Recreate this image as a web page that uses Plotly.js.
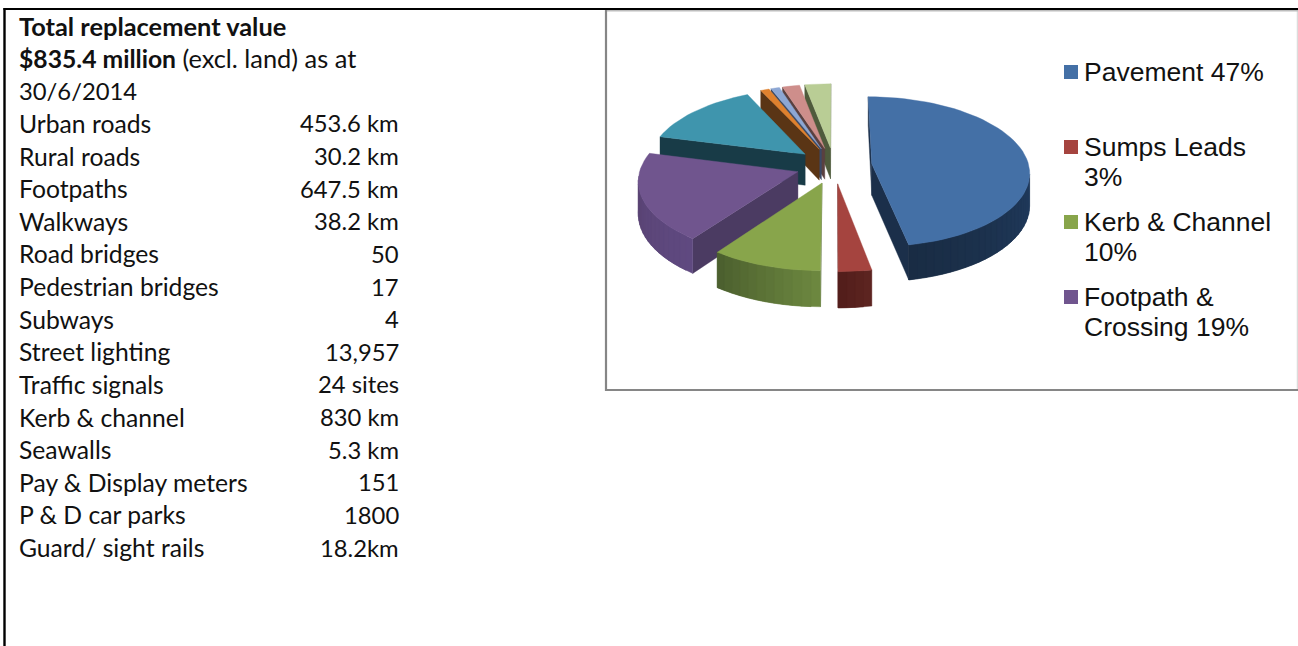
<!DOCTYPE html>
<html>
<head>
<meta charset="utf-8">
<script src="https://cdn.plot.ly/plotly-3.0.1.min.js"></script>
<style>html,body{margin:0;padding:0;background:#fff;overflow:hidden}#chart{width:1298px;height:646px}</style>
</head>
<body>
<div id="chart"></div>
<script>
// Asset summary table
const summaryLines = [
  "<span style=\"font-size:25.4px\"><b>Total replacement value</b></span>",
  "<span style=\"font-size:24.7px\"><b>$835.4 million</b></span> <span style=\"font-size:25.4px\">(excl. land) as at</span>",
  "30/6/2014"
];
const assetNames = ["Urban roads", "Rural roads", "Footpaths", "Walkways", "Road bridges", "Pedestrian bridges", "Subways",
  "Street lighting", "Traffic signals", "Kerb & channel", "Seawalls", "Pay & Display meters", "P & D car parks", "Guard/ sight rails"];
const assetValues = ["453.6 km", "30.2 km", "647.5 km", "38.2 km", "50", "17", "4", "13,957", "24 sites", "830 km", "5.3 km", "151", "1800", "18.2km"];

// Share of replacement value per asset class, clockwise from twelve o'clock
const sliceShares = [47, 3, 10, 19, 14, 1, 1, 2, 3];
const topColors = ["#4470A6", "#A5443F", "#88A54B", "#70558E", "#3F95AD", "#DF812E", "#8DA7D4", "#CE8E8B", "#B9CD95"];
const rimColorsFrom = ["#203A5C", "#5C2420", "#6C873F", "#5F4980", "#1A3D49", "#5A3515", "#3B4A66", "#5A4040", "#4F5B3C"];
const rimColorsTo = ["#192C44", "#531E1B", "#4C602F", "#5A4474", "#183B47", "#5A3515", "#3B4A66", "#5A4040", "#4F5B3C"];
const faceColors = ["#1B2F4A", "#5A211E", "#4D6130", "#4B3B62", "#183B47", "#5A3515", "#3B4A66", "#5A4040", "#4F5B3C"];
const paintOrder = [8, 7, 6, 5, 4, 3, 2, 1, 0];

// Legend
const legendEntries = [["Pavement 47%"], ["Sumps Leads", "3%"], ["Kerb & Channel", "10%"], ["Footpath &", "Crossing 19%"]];

// Oblique view of the exploded pie
const view = {cx: 834, cy: 165.5, rx: 157, ry: 74.4, perspective: 0.105, depth: 31.5, explode: 0.242};

function project(u, v, drop) {
  const s = 1 / (1 + view.perspective * v);
  return [view.cx + view.rx * u * s, view.cy - view.ry * v * s + drop * view.depth * s];
}
function hex(c) { return [1, 3, 5].map(i => parseInt(c.substr(i, 2), 16)); }
function mix(a, b, t) {
  const A = hex(a), B = hex(b);
  return "rgb(" + A.map((x, i) => Math.round(x + (B[i] - x) * t)).join(",") + ")";
}
function polygon(points, color) {
  const closed = points.concat([points[0]]);
  return {
    type: "scatter", mode: "lines", x: closed.map(p => p[0]), y: closed.map(p => p[1]),
    fill: "toself", fillcolor: color, line: {color: color, width: 0.4},
    hoverinfo: "skip", showlegend: false
  };
}
function sliceTraces(index, startFrac, endFrac) {
  const TAU = 2 * Math.PI, a0 = startFrac * TAU, a1 = endFrac * TAU, mid = (a0 + a1) / 2;
  const tu = view.explode * Math.sin(mid), tv = view.explode * Math.cos(mid);
  const steps = Math.max(2, Math.ceil((a1 - a0) / (2 * Math.PI / 120)));
  const outline = [[tu, tv]];
  for (let i = 0; i <= steps; i++) {
    const a = a0 + (a1 - a0) * i / steps;
    outline.push([tu + Math.sin(a), tv + Math.cos(a)]);
  }
  const traces = [];
  const quad = (p, q) => [project(p[0], p[1], 0), project(q[0], q[1], 0), project(q[0], q[1], 1), project(p[0], p[1], 1)];
  const facing = (p, q) => project(q[0], q[1], 0)[0] < project(p[0], p[1], 0)[0];
  // radial faces
  if (facing(outline[0], outline[1])) traces.push(polygon(quad(outline[0], outline[1]), faceColors[index]));
  const last = outline.length - 1;
  if (facing(outline[last], outline[0])) traces.push(polygon(quad(outline[last], outline[0]), faceColors[index]));
  // curved rim, shaded from one end to the other; each strip runs under the next to hide seams
  const visible = [];
  for (let i = 1; i < last; i++) if (facing(outline[i], outline[i + 1])) visible.push(i);
  visible.forEach((i, n) => {
    const t = visible.length > 1 ? n / (visible.length - 1) : 0;
    const far = Math.min(i + 2, last);
    const strip = [];
    for (let k = i; k <= far; k++) strip.push(project(outline[k][0], outline[k][1], 0));
    for (let k = far; k >= i; k--) strip.push(project(outline[k][0], outline[k][1], 1));
    traces.push(polygon(strip, mix(rimColorsFrom[index], rimColorsTo[index], t)));
  });
  traces.push(polygon(outline.map(p => project(p[0], p[1], 0)), topColors[index]));
  return traces;
}

const total = sliceShares.reduce((a, b) => a + b, 0);
const bounds = [0];
sliceShares.forEach(v => bounds.push(bounds[bounds.length - 1] + v / total));
const data = [];
paintOrder.forEach(i => data.push(...sliceTraces(i, bounds[i], bounds[i + 1])));

const tableFamily = "Lato, 'Open Sans', sans-serif";
const nameFont = {family: tableFamily, size: 24.7, color: "#111111"};
const valueFont = {family: tableFamily, size: 23.8, color: "#111111"};
const legendFont = {family: "'Liberation Sans', Arial, sans-serif", size: 26.5, color: "#111111"};
const note = (x, y, text, font, anchor) => ({
  x, y, text, font, xref: "x", yref: "y", xanchor: anchor || "left", yanchor: "middle",
  showarrow: false, borderpad: 0, borderwidth: 0
});

const annotations = [];
const rowStep = 32.62, rowTop = 25.6;
summaryLines.forEach((t, i) => annotations.push(note(18.5, rowTop + i * rowStep, t, i === 2 ? valueFont : nameFont)));
assetNames.forEach((t, i) => {
  const y = rowTop + (i + 3) * rowStep;
  annotations.push(note(18.5, y, t, nameFont));
  annotations.push(note(399, y, assetValues[i], valueFont, "right"));
});

const frameLine = (x0, y0, x1, y1, color, width) => ({type: "line", x0, y0, x1, y1, line: {color, width}});
const shapes = [
  // chart frame
  frameLine(1297.5, 10, 1297.5, 390, "#dcdcdc", 1.5),
  frameLine(606, 10.5, 1298, 10.5, "#bdbdbd", 2),
  frameLine(606, 10, 606, 391, "#868686", 2.2),
  frameLine(605, 390, 1298, 390, "#868686", 2),
  // table frame
  frameLine(4.5, 8, 4.5, 646, "#000000", 2.4),
  frameLine(3.5, 9, 1298, 9, "#000000", 2)
];
const legendY = [72, 147, 222, 297], legendLine = 30;
legendEntries.forEach((lines, i) => {
  shapes.push({type: "rect", x0: 1064, x1: 1078, y0: legendY[i] - 7, y1: legendY[i] + 7, line: {width: 0}, fillcolor: topColors[i]});
  lines.forEach((t, j) => annotations.push(note(1084, legendY[i] + j * legendLine, t, legendFont)));
});

const hiddenAxis = {visible: false, fixedrange: true, showgrid: false, zeroline: false};
Plotly.newPlot("chart", data, {
  width: 1298, height: 646, margin: {l: 0, r: 0, t: 0, b: 0},
  paper_bgcolor: "#ffffff", plot_bgcolor: "#ffffff", showlegend: false,
  xaxis: Object.assign({range: [0, 1298]}, hiddenAxis),
  yaxis: Object.assign({range: [646, 0]}, hiddenAxis),
  annotations, shapes
}, {displayModeBar: false, staticPlot: true});
</script>
</body>
</html>
